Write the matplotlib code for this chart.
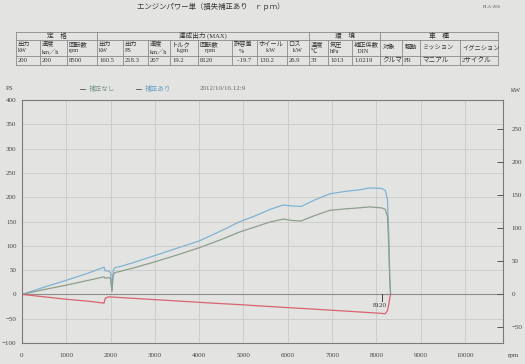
import numpy as np
import matplotlib
matplotlib.use("Agg")
from matplotlib import pyplot as plt

plt.rcParams['font.family'] = ['Liberation Serif', 'Noto Sans CJK JP', 'DejaVu Sans']

# --- data (PS) ---
rpm = [0, 500, 1000, 1500, 1850, 1880, 1950, 2000, 2030, 2060, 2100, 2200, 2500, 3000,
       3500, 4000, 4500, 4900, 5300, 5600, 5900, 6100, 6300, 6600, 6950, 7300, 7600,
       7850, 8120, 8200, 8250, 8280, 8300, 8320]
ps_corr = [0, 15, 29, 44, 56, 48, 49, 44, 8, 50, 55, 57, 65, 80,
           95, 110, 131, 149, 163, 175, 184, 182, 181, 194, 207, 212, 215,
           219, 218, 214, 195, 120, 40, 0]
ps_raw = [0, 10, 19, 29, 36, 33, 35, 32, 6, 40, 45, 47, 54, 67,
          81, 96, 113, 128, 140, 149, 155, 152, 151, 162, 173, 176, 178,
          180, 178, 175, 160, 100, 35, 0]
ps_loss = [0, -5, -10, -14, -18, -8, -5, -5.5, -5.5, -5.6, -5.8, -6.4, -8, -10.8,
           -13.5, -16.3, -19, -21, -23.3, -25, -26.6, -27.7, -28.8, -30.4, -32.4, -34.3, -36,
           -37.5, -39, -40, -33, -20, -8, 0]
peak_rpm = 8120

# --- table on top of the sheet ---
groups = ["定　格", "達成出力 (MAX)", "環　境", "車　種"]
group_span = [(0, 3), (3, 11), (11, 14), (14, 18)]
col_head = ["出力\nkW", "速度\nkm／h", "回転数\nrpm", "出力\nkW", "出力\nPS", "速度\nkm／h",
            "トルク\n   kgm", "回転数\n   rpm", "許容差\n   %", "ホイール\n     kW", "ロス\n   kW",
            "温度\n℃", "気圧\nhPa", "補正係数\n  DIN", "対象", "駆動", "ミッション", "イグニション"]
values = ["200", "200", "8500", "160.5", "218.3", "207", "19.2", "8120", "  -19.7", "130.2",
          "26.9", "33", "1013", "1.0219", "クルマ", "FR", "マニアル", "2サイクル"]
edges = [16, 40, 67, 97, 123, 148, 170, 198, 232, 257, 287, 309, 328, 352, 380, 402, 420, 460, 498]

paper = '#e3e4e1'
fig = plt.figure(figsize=(5.25, 3.64), dpi=100, facecolor=paper)

# sheet overlay in pixel coords
sh = fig.add_axes([0, 0, 1, 1])
sh.set_xlim(0, 525)
sh.set_ylim(364, 0)
sh.axis('off')
sh.text(211, 7, "エンジンパワー単（損失補正あり　ｒｐｍ）", ha='center', va='center', fontsize=5.3, color='#333')
sh.text(492, 7, "FLA-206", ha='center', va='center', fontsize=3.5, color='#555')

lc = '#8a8a8a'
rows = [31.5, 39.5, 55.5, 65]
for y in rows:
    sh.plot([edges[0], edges[-1]], [y, y], color=lc, lw=0.6)
for i, x in enumerate(edges):
    top = rows[0] if (i == 0 or i == len(edges) - 1 or any(i == s for s, e in group_span)) else rows[1]
    sh.plot([x, x], [top, rows[-1]], color=lc, lw=0.6)
for g, (s, e) in zip(groups, group_span):
    sh.text((edges[s] + edges[e]) / 2, 35.5, g, ha='center', va='center', fontsize=4.8, color='#333')
for i, h in enumerate(col_head):
    if "\n" in h:
        sh.text(edges[i] + 1.5, 47.5, h, ha='left', va='center', fontsize=4.5, color='#333', linespacing=1.3)
    else:
        sh.text(edges[i] + 2.5, 47.5, h, ha='left', va='center', fontsize=4.5, color='#333')
for i, v in enumerate(values):
    sh.text(edges[i] + 2, 60.5, v, ha='left', va='center', fontsize=4.8, color='#333')

# legend line above the chart
sh.text(6, 89, "PS", ha='left', va='center', fontsize=5, color='#444')
sh.text(511, 90, "kW", ha='left', va='center', fontsize=5, color='#444')
sh.plot([80, 85], [89, 89], color='#555', lw=0.6)
sh.text(89, 89, "補正なし", ha='left', va='center', fontsize=4.8, color='#7f9484')
sh.plot([136, 141], [89, 89], color='#555', lw=0.6)
sh.text(145, 89, "補正あり", ha='left', va='center', fontsize=4.8, color='#6a9dc2')
sh.text(200, 89, "2012/10/16.12:9", ha='left', va='center', fontsize=5, color='#666')
sh.text(508, 355, "rpm", ha='left', va='center', fontsize=5, color='#444')

# --- chart ---
ax = fig.add_axes([22 / 525, 21 / 364, 481 / 525, 243 / 364], facecolor=paper)
ax.set_xlim(0, 10858)
ax.set_ylim(-100, 400)
ax.set_xticks(np.arange(0, 10001, 1000))
ax.set_yticks(np.arange(-100, 401, 50))
ax.grid(True, color='#c9c9c7', lw=0.6)
ax.tick_params(length=0, labelsize=5, colors='#444', pad=4)
ax.tick_params(axis='x', pad=7)
for s in ax.spines.values():
    s.set_color('#7a7a7a')
    s.set_linewidth(0.8)
ax.axhline(0, color='#8c8c8c', lw=0.8)

ax.plot(rpm, ps_corr, color='#7fb2d4', lw=0.9)
ax.plot(rpm, ps_raw, color='#8e9e8c', lw=0.9)
ax.plot(rpm, ps_loss, color='#d9626e', lw=0.9)

ax.plot([peak_rpm, peak_rpm], [0, -13], color='#444', lw=0.7)
ax.text(peak_rpm - 50, -17, str(peak_rpm), ha='center', va='top', fontsize=5, color='#333')

ax2 = ax.twinx()
ax2.set_ylim(-100 / 1.36, 400 / 1.36)
ax2.set_yticks(np.arange(-50, 251, 50))
ax2.tick_params(direction='in', length=4, width=0.7, color='#555', labelsize=5, labelcolor='#444', pad=6)
for s in ax2.spines.values():
    s.set_visible(False)

fig.savefig("out.png", dpi=100, facecolor=paper)
